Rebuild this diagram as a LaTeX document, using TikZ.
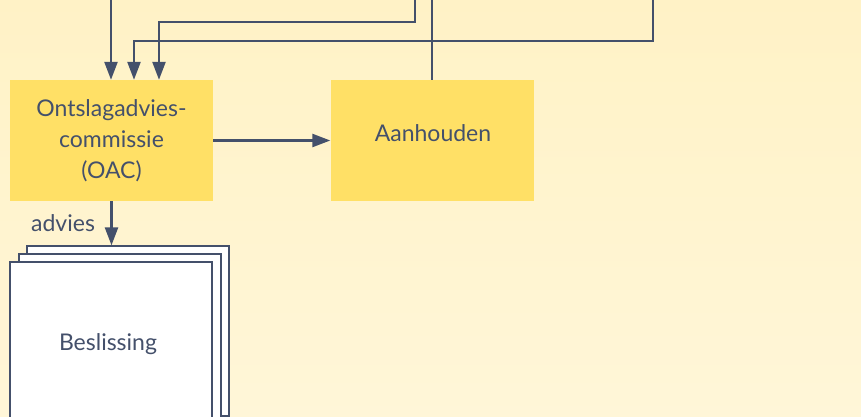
\documentclass[tikz,border=0pt]{standalone}
\usepackage{fontspec}
\setmainfont{Lato}
\usetikzlibrary{arrows.meta}
\definecolor{bgtop}{HTML}{FFF2C6}
\definecolor{bgbot}{HTML}{FFF6D8}
\definecolor{boxy}{HTML}{FFE066}
\definecolor{ink}{HTML}{44506B}
\begin{document}
\begin{tikzpicture}[x=1pt,y=-1pt,
  conn/.style={draw=ink,line width=2.4pt},
  arr/.style={conn,-{Triangle[length=18pt,width=13pt]}},
  txt/.style={text=ink,font=\fontsize{23}{31}\selectfont},
  ybox/.style={txt,fill=boxy,minimum width=203pt,minimum height=121pt,inner sep=0pt,align=center},
  page/.style={draw=ink,fill=white,line width=1.3pt,minimum width=202pt,minimum height=170pt,inner sep=0pt}]
\shade[top color=bgtop,bottom color=bgbot] (0,0) rectangle (861,417);
\useasboundingbox (0,0) rectangle (861,417);
\node[ybox] (oac) at (111.5,140.5) {Ontslagadvies-\\commissie\\(OAC)};
\node[ybox] (aan) at (432,140.5) {};
\node[txt] (aant) at (433,133) {Aanhouden};
\node[page] (p3) at (128,331) {};
\node[page] (p2) at (120,339) {};
\node[page] (p1) at (111,347) {};
\node[txt] (bes) at (108,344) {Beslissing};
\coordinate (t1) at (111,0);
\coordinate (c2a) at (653,0);
\coordinate (c2b) at (653,41);
\coordinate (c2c) at (134,41);
\coordinate (c3a) at (415,0);
\coordinate (c3b) at (415,22);
\coordinate (c3c) at (159,22);
\coordinate (a1) at (432,0);
\draw[arr] (t1) -- (oac.north -| t1);
\draw[arr] (c2a) -- (c2b) -- (c2c) -- (oac.north -| c2c);
\draw[arr] (c3a) -- (c3b) -- (c3c) -- (oac.north -| c3c);
\draw[conn] (aan.north) -- (a1);
\draw[arr] (oac.east) -- (aan.west);
\draw[arr] (oac.south) -- (p3.north -| oac.south) node[txt,midway,left=12pt] {advies};
\end{tikzpicture}
\end{document}
